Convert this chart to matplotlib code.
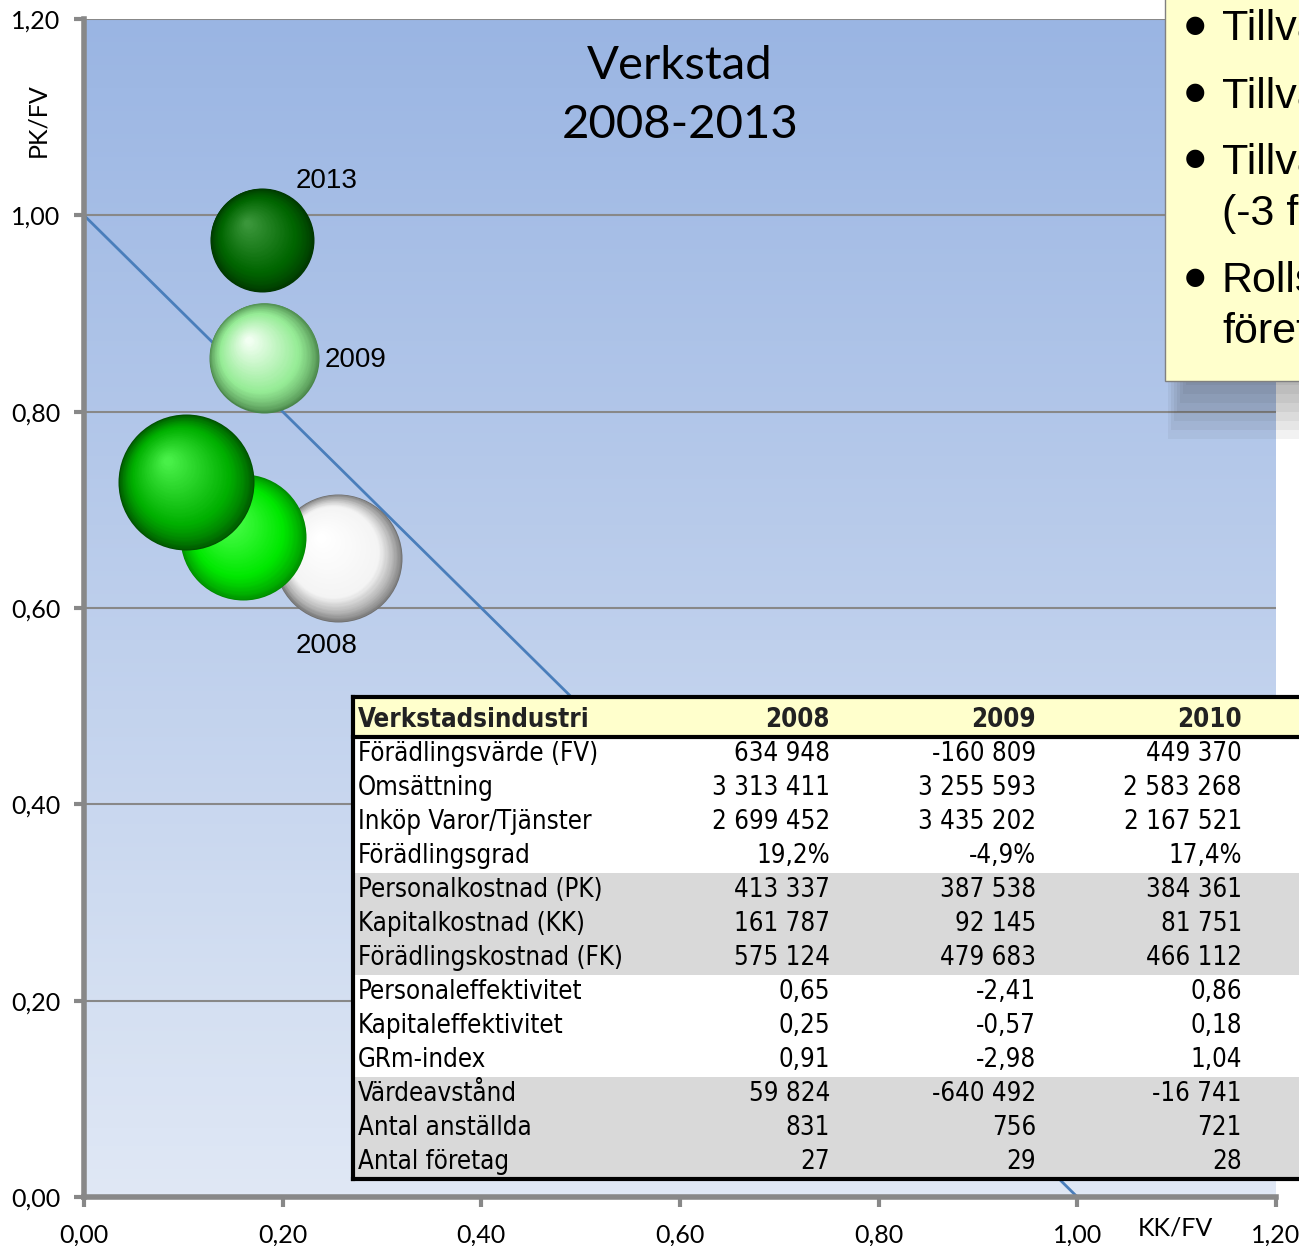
import numpy as np
import matplotlib
matplotlib.use('Agg')
import matplotlib.pyplot as plt
from matplotlib.patches import Rectangle
from matplotlib.transforms import offset_copy
from matplotlib.font_manager import FontProperties

# bubble data (KK/FV, PK/FV, bubble size)
years = ['2008', '2010', '2011', '2012', '2013']
kk_fv = [0.256, 0.181, 0.160, 0.103, 0.179]
pk_fv = [0.651, 0.855, 0.672, 0.728, 0.975]
bubble = [64, 55, 63, 68, 52]
point_labels = ['2008', '2009', '', '', '2013']

# table data
table_years = ['2008', '2009', '2010']
row_names = ['Förädlingsvärde (FV)', 'Omsättning', 'Inköp Varor/Tjänster', 'Förädlingsgrad',
             'Personalkostnad (PK)', 'Kapitalkostnad (KK)', 'Förädlingskostnad (FK)',
             'Personaleffektivitet', 'Kapitaleffektivitet', 'GRm-index',
             'Värdeavstånd', 'Antal anställda', 'Antal företag']
col_2008 = ['634 948', '3 313 411', '2 699 452', '19,2%', '413 337', '161 787', '575 124',
            '0,65', '0,25', '0,91', '59 824', '831', '27']
col_2009 = ['-160 809', '3 255 593', '3 435 202', '-4,9%', '387 538', '92 145', '479 683',
            '-2,41', '-0,57', '-2,98', '-640 492', '756', '29']
col_2010 = ['449 370', '2 583 268', '2 167 521', '17,4%', '384 361', '81 751', '466 112',
            '0,86', '0,18', '1,04', '-16 741', '721', '28']
gray_rows = [4, 5, 6, 10, 11, 12]

bullet_lines = [('●', 'Tillväxt'), ('●', 'Tillväxt'), ('●', 'Tillväxt'), ('', '(-3 företag)'),
                ('●', 'Rollstol'), ('', 'företag')]

# colours: edge shade, base, highlight
sphere_cols = [('#707070', '#f4f4f4', '#ffffff'),
               ('#4a864a', '#96ec96', '#f2fff2'),
               ('#008a00', '#00e800', '#50ff50'),
               ('#005000', '#00b000', '#48f048'),
               ('#003400', '#006600', '#3a963a')]


def lerp(c1, c2, t):
    a = np.array(matplotlib.colors.to_rgb(c1))
    b = np.array(matplotlib.colors.to_rgb(c2))
    return tuple(a + (b - a) * t)


fig = plt.figure(figsize=(12.99, 12.46), dpi=100)
ax = fig.add_axes([84 / 1299, 49 / 1246, 1192 / 1299, 1178 / 1246])

# gradient background
grad = np.linspace(0, 1, 256).reshape(-1, 1)
cmap = matplotlib.colors.LinearSegmentedColormap.from_list('bg', ['#9ab5e3', '#e0e8f5'])
ax.imshow(grad, extent=[0, 1.2, 0, 1.2], aspect='auto', cmap=cmap, zorder=0, origin='upper')

ax.set_xlim(0, 1.2)
ax.set_ylim(0, 1.2)
ticks = np.arange(0, 1.21, 0.2)
ax.set_xticks(ticks)
ax.set_yticks(ticks)
ax.set_xticklabels([f'{t:.2f}'.replace('.', ',') for t in ticks], fontfamily='Lato', fontsize=18)
ax.set_yticklabels([f'{t:.2f}'.replace('.', ',') for t in ticks], fontfamily='Lato', fontsize=18)
ax.tick_params(direction='out', length=7, width=3, color='#888888')
ax.tick_params(axis='x', pad=12)
ax.tick_params(axis='y', pad=10)
for s in ['top', 'right']:
    ax.spines[s].set_visible(False)
for s in ['left', 'bottom']:
    ax.spines[s].set_color('#888888')
    ax.spines[s].set_linewidth(4)
ax.grid(axis='y', color='#888888', lw=1.5, zorder=1)
ax.set_axisbelow(True)

ax.plot([0, 1], [1, 0], color='#4a7ebb', lw=2, zorder=2)

# spheres
N = 70
for k in range(len(years)):
    r = bubble[k]
    edge, base, hl = sphere_cols[k]
    for i in range(N):
        t = i / (N - 1)
        ri = r * (1 - 0.94 * t)
        if t < 0.3:
            col = lerp(edge, base, (t / 0.3) ** 0.7)
        else:
            col = lerp(base, hl, (t - 0.3) / 0.7)
        tr = offset_copy(ax.transData, fig=fig, x=-0.28 * r * t * 0.72, y=0.32 * r * t * 0.72, units='points')
        ax.scatter([kk_fv[k]], [pk_fv[k]], s=(2 * ri * 0.72) ** 2, color=col, linewidths=0,
                   transform=tr, zorder=3 + k)

label_offsets = {'2008': (-12, -88), '2009': (92, -2), '2013': (65, 59)}
for k, lab in enumerate(point_labels):
    if lab:
        dx, dy = label_offsets[lab]
        ax.annotate(lab, (kk_fv[k], pk_fv[k]), xytext=(dx * 0.72, dy * 0.72), textcoords='offset points',
                    ha='center', va='center', fontsize=20, fontfamily='Liberation Sans', zorder=10)

ax.text(0.5, 0.935, 'Verkstad\n2008-2013', transform=ax.transAxes, ha='center', va='center',
        fontsize=34, fontfamily='Lato', linespacing=1.5, zorder=10)
ax.text(-0.0386, 0.914, 'PK/FV', transform=ax.transAxes, rotation=90, ha='center', va='center',
        fontsize=18, fontfamily='Lato')
ax.text(0.916, -0.026, 'KK/FV', transform=ax.transAxes, ha='center', va='center',
        fontsize=18, fontfamily='Lato')

# overlay for table and text box (pixel coordinates)
ov = fig.add_axes([0, 0, 1, 1], zorder=5)
ov.set_xlim(0, 1299)
ov.set_ylim(1246, 0)
ov.axis('off')

# text box with shadow
for k in range(14):
    d = 3 * k
    ov.add_patch(Rectangle((1168 + d, 0), 300, 381 + 58 - 3 * d, color='#303030', alpha=0.06, lw=0))
ov.add_patch(Rectangle((1165, -10), 300, 391, facecolor='#ffffcc', edgecolor='#808080', lw=1))
line_y = [25, 92, 158, 210, 277, 327]
for y, (mark, txt) in zip(line_y, bullet_lines):
    if mark:
        ov.text(1195, y, mark, ha='center', va='center', fontsize=17, fontfamily='DejaVu Sans')
    ov.text(1222, y, txt, ha='left', va='center_baseline', fontsize=31, fontfamily='Liberation Sans')

# table
tfont = FontProperties(family='DejaVu Sans', stretch='condensed', size=18.5)
tfont_b = FontProperties(family='DejaVu Sans', stretch='condensed', size=18.5, weight='bold')
top, head_h, row_h = 697, 40, 34
left, right = 353, 1320
ov.add_patch(Rectangle((left, top), right - left, head_h, facecolor='#ffffcc', lw=0))
for i in range(len(row_names)):
    y0 = top + head_h + i * row_h
    fc = '#d9d9d9' if i in gray_rows else 'white'
    ov.add_patch(Rectangle((left, y0), right - left, row_h, facecolor=fc, lw=0))
ov.plot([left, right], [top, top], color='k', lw=3)
ov.plot([left, right], [top + head_h, top + head_h], color='k', lw=3)
bottom = top + head_h + len(row_names) * row_h
ov.plot([left, right], [bottom, bottom], color='k', lw=3)
ov.plot([left, left], [top, bottom], color='k', lw=3)

col_x = [830, 1036, 1242]
ov.text(358, top + head_h / 2 + 3, 'Verkstadsindustri', ha='left', va='center', fontproperties=tfont_b,
        color='#222222')
for x, yr in zip(col_x, table_years):
    ov.text(x, top + head_h / 2 + 3, yr, ha='right', va='center', fontproperties=tfont_b, color='#222222')
for i, name in enumerate(row_names):
    yc = top + head_h + i * row_h + row_h / 2
    ov.text(358, yc, name, ha='left', va='center', fontproperties=tfont)
    for x, col in zip(col_x, [col_2008, col_2009, col_2010]):
        ov.text(x, yc, col[i], ha='right', va='center', fontproperties=tfont)

fig.savefig('out.png', dpi=100)
